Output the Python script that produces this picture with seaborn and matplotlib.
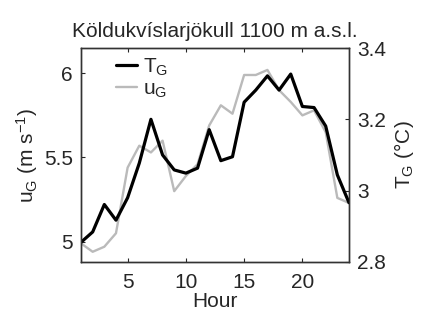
import numpy as np
import pandas as pd
import seaborn as sns
import matplotlib
matplotlib.use("Agg")
import matplotlib.pyplot as plt
from matplotlib.lines import Line2D

hours = list(range(1, 25))
# wind speed u_G (m/s), left axis
u_g = [4.99, 4.94, 4.97, 5.05, 5.44, 5.57, 5.53, 5.60, 5.30, 5.39, 5.46, 5.69,
       5.81, 5.76, 5.99, 5.99, 6.02, 5.90, 5.83, 5.75, 5.78, 5.65, 5.26, 5.23]
# temperature T_G (deg C), right axis
t_g = [2.855, 2.884, 2.961, 2.917, 2.980, 3.077, 3.200, 3.100, 3.058, 3.049, 3.063, 3.171,
       3.084, 3.095, 3.248, 3.282, 3.322, 3.282, 3.327, 3.236, 3.233, 3.181, 3.044, 2.966]

df = pd.DataFrame({"hour": hours, "u": u_g, "t": t_g})

sns.set_style("ticks")
plt.rcParams["font.family"] = ["Liberation Sans", "DejaVu Sans"]
plt.rcParams["mathtext.fontset"] = "custom"
plt.rcParams["mathtext.rm"] = "Liberation Sans"
plt.rcParams["mathtext.it"] = "Liberation Sans"

fs = 15
fig = plt.figure(figsize=(4.22, 3.14), dpi=100)
ax = fig.add_axes([0.192, 0.166, 0.635, 0.681])
ax2 = ax.twinx()

gray = "#bababa"
sns.lineplot(data=df, x="hour", y="u", ax=ax, color=gray, linewidth=1.7)
sns.lineplot(data=df, x="hour", y="t", ax=ax2, color="black", linewidth=2.3)

ax.set_xlim(1, 24)
ax.set_ylim(4.88, 6.15)
ax2.set_ylim(2.8, 3.4)
ax.set_xticks([5, 10, 15, 20])
ax.set_yticks([5, 5.5, 6])
ax.set_yticklabels(["5", "5.5", "6"])
ax2.set_yticks([2.8, 3.0, 3.2, 3.4])
ax2.set_yticklabels(["2.8", "3", "3.2", "3.4"])

for a in (ax, ax2):
    a.tick_params(direction="in", length=3, labelsize=fs, width=0.8, pad=6)
    for s in a.spines.values():
        s.set_linewidth(1.0)
        s.set_color("#333333")
ax.tick_params(top=True)
ax.tick_params(axis="x", pad=8)

ax.set_xlabel("Hour", fontsize=fs, labelpad=0)
ax.set_ylabel(r"u$_\mathregular{G}$ (m s$^\mathregular{-1}$)", fontsize=fs, labelpad=3)
ax2.set_ylabel(r"T$_\mathregular{G}$ (°C)", fontsize=fs, labelpad=4)
ax.set_title("Köldukvíslarjökull 1100 m a.s.l.", fontsize=fs, pad=8)

handles = [Line2D([], [], color="black", linewidth=2.3),
           Line2D([], [], color=gray, linewidth=1.7)]
ax2.legend(handles, [r"T$_\mathregular{G}$", r"u$_\mathregular{G}$"], loc="upper left",
           frameon=False, fontsize=fs, handlelength=1.0, handletextpad=0.3,
           labelspacing=0.1, borderaxespad=0.0, bbox_to_anchor=(0.1, 1.0))

fig.savefig("out.png", dpi=100)
